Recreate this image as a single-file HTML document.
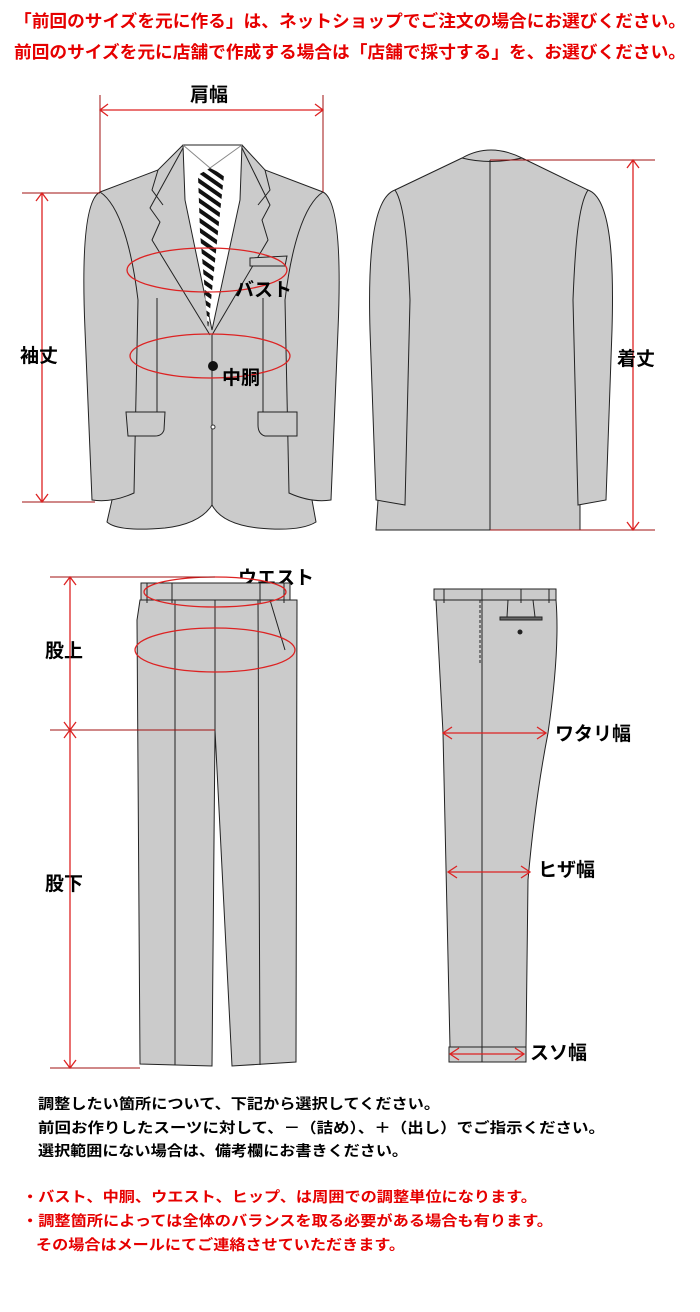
<!DOCTYPE html>
<html><head><meta charset="utf-8"><style>
body{margin:0;background:#fff;width:700px;height:1312px;overflow:hidden;font-family:"Liberation Sans","Noto Sans CJK JP",sans-serif}
svg{position:absolute;left:0;top:0}
text{font-family:"Liberation Sans","Noto Sans CJK JP",sans-serif;font-weight:bold}
</style></head><body>
<svg width="700" height="1312" viewBox="0 0 700 1312">
<g fill="#e60000" font-size="17.3">
<text x="14" y="27" textLength="672" lengthAdjust="spacingAndGlyphs">「前回のサイズを元に作る」は、ネットショップでご注文の場合にお選びください。</text>
<text x="14" y="58" textLength="672" lengthAdjust="spacingAndGlyphs">前回のサイズを元に店舗で作成する場合は「店舗で採寸する」を、お選びください。</text>
</g>
<defs><pattern id="st" width="8" height="8" patternUnits="userSpaceOnUse" patternTransform="rotate(35)"><rect width="8" height="8" fill="#fff"/><rect width="8" height="4" fill="#111"/></pattern></defs>
<!-- front jacket -->
<g stroke="#222" stroke-width="1" fill="#cbcbcb">
<path d="M100,192 L158,170 L183,145 L242,145 L265,170 L323,192 L312,500 L316,522 Q300,532 258,528 Q222,524 212,505 Q200,524 165,528 Q118,532 107,522 L112,500 Z"/>
<path d="M100,192 C84,200 82,260 85,330 L92,500 Q112,503 134,493 L138,300 C132,250 120,205 100,192Z"/>
<path d="M323,192 C339,200 341,260 338,330 L331,500 Q311,503 289,493 L285,300 C291,250 303,205 323,192Z"/>
<path d="M183,145 L242,145 L240,200 L212,330 L185,200Z" fill="#fff"/>
<path d="M183,145 L210,168 L242,145" fill="none" stroke="#888"/>
<path d="M198,175 L210,168 L224,175 L218,232 L208,330 L200,232Z" fill="url(#st)" stroke="none"/>
<path d="M183,148 L150,208 L160,222 L152,240 L210,335 M242,148 L270,205 L262,220 L268,240 L212,335" fill="none"/>
<path d="M158,170 L152,190 L163,205 M265,170 L270,190 L258,205" fill="none"/>
<path d="M212,335 L212,505" fill="none"/>
<path d="M157,298 L157,412 M263,298 L263,412" fill="none"/>
<path d="M126,412 L165,412 L164,430 Q162,436 155,436 L128,436Z M258,412 L297,412 L297,436 L265,436 Q258,434 258,425Z"/>
<path d="M250,258 L287,256 L285,266 L250,266Z"/>
</g>
<circle cx="213" cy="366" r="5" fill="#111"/>
<circle cx="213" cy="427" r="2" fill="#fff" stroke="#333"/>
<g fill="none" stroke="#d22" stroke-width="1.3">
<ellipse cx="207" cy="270" rx="80" ry="22"/>
<ellipse cx="210" cy="356" rx="80" ry="22"/>
</g>
<!-- back jacket -->
<g stroke="#222" stroke-width="1" fill="#cbcbcb">
<path d="M395,190 L462,158 Q490,142 522,158 L588,190 L580,500 L580,530 L376,530 L378,500Z"/>
<path d="M395,190 C372,198 368,260 370,330 L376,500 L405,505 L410,300 C408,250 405,205 395,190Z"/>
<path d="M588,190 C611,198 614,260 612,330 L606,500 L578,505 L573,300 C575,250 578,205 588,190Z"/>
<path d="M490,160 L490,530 M462,158 Q490,165 522,158" fill="none"/>
</g>
<!-- jacket measures -->
<g stroke="#a01010" stroke-width="1" fill="none">
<path d="M100,95 L100,192 M323,95 L323,192"/>
<path d="M22,193 L100,193 M22,502 L95,502 M490,160 L655,160 M490,530 L655,530"/>
</g>
<g stroke="#d22" stroke-width="1.3" fill="none">
<path d="M100,110 L323,110 M108,104 L100,110 L108,116 M315,104 L323,110 L315,116"/>
<path d="M42,193 L42,502 M36,201 L42,193 L48,201 M36,494 L42,502 L48,494"/>
<path d="M633,160 L633,530 M627,168 L633,160 L639,168 M627,522 L633,530 L639,522"/>
</g>
<g font-size="19" fill="#000">
<text x="190" y="101">肩幅</text>
<text x="20" y="362">袖丈</text>
<text x="617" y="365">着丈</text>
<text x="235" y="296">バスト</text>
<text x="222" y="384">中胴</text>
<text x="238" y="584">ウエスト</text>
<text x="240" y="656">ヒップ</text>
<text x="45" y="657">股上</text>
<text x="45" y="890">股下</text>
<text x="555" y="740">ワタリ幅</text>
<text x="538" y="876">ヒザ幅</text>
<text x="530" y="1059">スソ幅</text>
</g>
<!-- front pants -->
<g stroke="#222" stroke-width="1" fill="#cbcbcb">
<path d="M140,600 L297,600 L296,1062 L232,1066 L215,730 L212,1066 L140,1064 L137,620Z"/>
<rect x="141" y="583" width="149" height="17"/>
<path d="M175,600 L175,1065 M258,600 L260,1065 M215,600 L215,730 M270,600 L285,650" fill="none"/>
<path d="M147,583 L147,603 M172,583 L172,603 M260,583 L260,603 M284,583 L284,603" fill="none"/>
</g>
<g fill="none" stroke="#d22" stroke-width="1.3">
<ellipse cx="215" cy="592" rx="71" ry="15"/>
<ellipse cx="215" cy="650" rx="80" ry="22"/>
</g>
<g stroke="#a01010" stroke-width="1" fill="none"><path d="M50,577 L215,577 M50,730 L215,730 M50,1068 L140,1068"/></g>
<g stroke="#d22" stroke-width="1.3" fill="none">
<path d="M70,577 L70,730 M64,585 L70,577 L76,585 M64,722 L70,730 L76,722"/>
<path d="M70,730 L70,1068 M64,738 L70,730 L76,738 M64,1060 L70,1068 L76,1060"/>
</g>
<!-- side pants -->
<g stroke="#222" stroke-width="1" fill="#cbcbcb">
<path d="M436,600 L556,600 Q560,650 548,733 Q535,800 528,880 L526,1047 L450,1047 L443,733 Z"/>
<rect x="449" y="1047" width="77" height="15"/>
<rect x="434" y="589" width="122" height="11"/>
<path d="M482,589 L482,1062" fill="none"/>
<path d="M480,600 L480,665" fill="none" stroke-dasharray="3,2"/>
<path d="M444,589 L444,603 M521,589 L521,603 M549,589 L549,603" fill="none"/>
<path d="M508,600 L507,617 M533,600 L535,617" fill="none"/>
<rect x="500" y="617" width="42" height="3" fill="#666"/>
</g>
<circle cx="520" cy="632" r="2.5" fill="#222"/>
<g stroke="#d22" stroke-width="1.3" fill="none">
<path d="M443,733 L546,733 M452,727 L443,733 L452,739 M537,727 L546,733 L537,739"/>
<path d="M448,872 L530,872 M457,866 L448,872 L457,878 M521,866 L530,872 L521,878"/>
<path d="M450,1054 L524,1054 M459,1048 L450,1054 L459,1060 M515,1048 L524,1054 L515,1060"/>
</g>
<g font-size="14.5" fill="#000">
<text x="38" y="1109" textLength="402" lengthAdjust="spacingAndGlyphs">調整したい箇所について、下記から選択してください。</text>
<text x="38" y="1133" textLength="567" lengthAdjust="spacingAndGlyphs">前回お作りしたスーツに対して、－（詰め）、＋（出し）でご指示ください。</text>
<text x="38" y="1156" textLength="370" lengthAdjust="spacingAndGlyphs">選択範囲にない場合は、備考欄にお書きください。</text>
</g>
<g font-size="14.5" fill="#e60000">
<text x="22" y="1202" textLength="515" lengthAdjust="spacingAndGlyphs">・バスト、中胴、ウエスト、ヒップ、は周囲での調整単位になります。</text>
<text x="22" y="1226" textLength="531" lengthAdjust="spacingAndGlyphs">・調整箇所によっては全体のバランスを取る必要がある場合も有ります。</text>
<text x="36" y="1250" textLength="369" lengthAdjust="spacingAndGlyphs">その場合はメールにてご連絡させていただきます。</text>
</g>
</svg>
</body></html>
